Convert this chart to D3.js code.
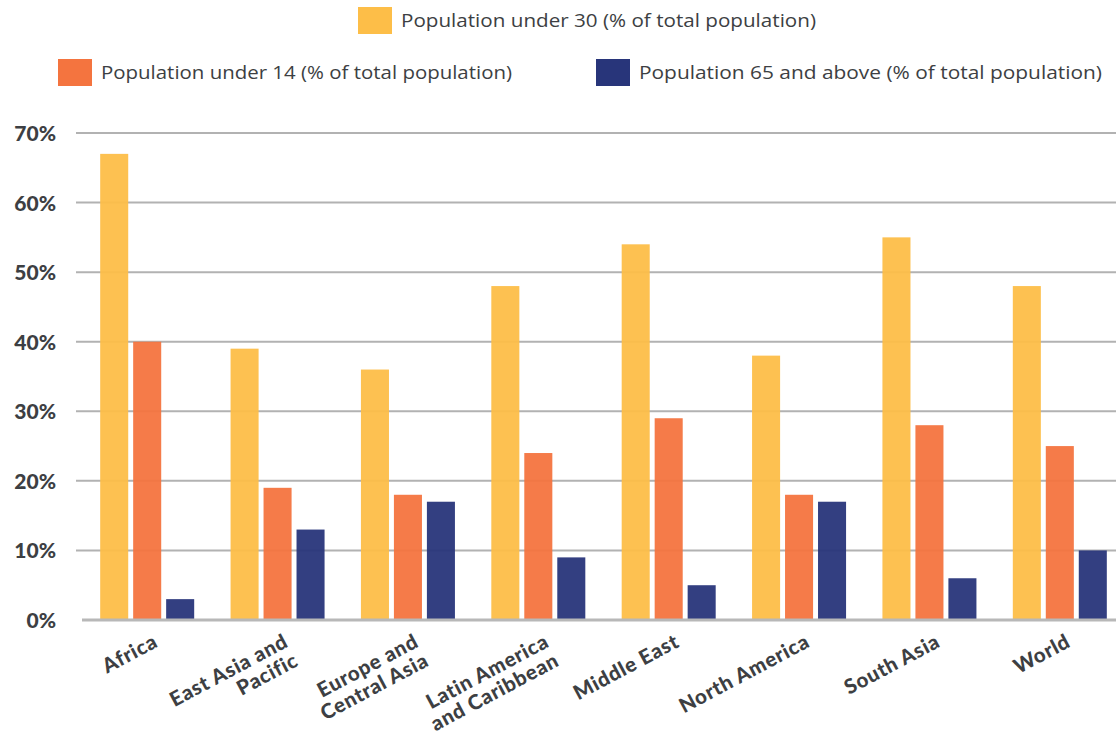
<!DOCTYPE html>
<html>
<head>
<meta charset="utf-8">
<script src="https://cdn.jsdelivr.net/npm/d3@7"></script>
<style>
  html, body { margin: 0; padding: 0; background: #ffffff; }
  svg { display: block; font-family: "Open Sans", Lato, sans-serif; }
</style>
</head>
<body>
<svg id="chart" width="1116" height="734"></svg>
<script>
// Regions shown along the x axis (each entry is the lines of its label)
const categories = [
  "Africa",
  "East Asia and Pacific",
  "Europe and Central Asia",
  "Latin America and Caribbean",
  "Middle East",
  "North America",
  "South Asia",
  "World"
];
const categoryLines = [
  ["Africa"],
  ["East Asia and", "Pacific"],
  ["Europe and", "Central Asia"],
  ["Latin America", "and Caribbean"],
  ["Middle East"],
  ["North America"],
  ["South Asia"],
  ["World"]
];

// Series values, % of total population
const seriesNames = [
  "Population under 30 (% of total population)",
  "Population under 14 (% of total population)",
  "Population 65 and above (% of total population)"
];
const under30 = [67, 39, 36, 48, 54, 38, 55, 48];
const under14 = [40, 19, 18, 24, 29, 18, 28, 25];
const over65  = [3, 13, 17, 9, 5, 17, 6, 10];
const seriesColors = ["#FDBE48", "#F4743F", "#28357A"];

// Y axis ticks
const yTicks = [0, 10, 20, 30, 40, 50, 60, 70];

const series = [under30, under14, over65];
const svg = d3.select("#chart");
const textColor = "#3d3f43";

const y = d3.scaleLinear().domain([0, 70]).range([620, 133]);

const x = d3.scaleBand()
  .domain(categories)
  .range([82, 1125])
  .paddingInner(0.279)
  .paddingOuter(0.1395);

const xInner = d3.scaleBand()
  .domain(d3.range(series.length))
  .range([0, x.bandwidth()])
  .paddingInner(0.15)
  .paddingOuter(0);

// Gridlines
svg.append("g")
  .selectAll("line")
  .data(yTicks.filter(t => t > 0))
  .join("line")
  .attr("x1", 76)
  .attr("x2", 1116)
  .attr("y1", d => y(d))
  .attr("y2", d => y(d))
  .attr("stroke", "#b2b2b2")
  .attr("stroke-width", 2);

// Y axis labels
const yAxis = svg.append("g")
  .attr("transform", "translate(56,0)")
  .call(d3.axisLeft(y).tickValues(yTicks).tickFormat(d => d + "%").tickSize(0).tickPadding(0));
yAxis.select(".domain").remove();
yAxis.selectAll("text")
  .attr("fill", textColor)
  .attr("font-size", 21)
  .attr("font-weight", 900)
  .attr("font-family", "Lato, sans-serif")
  .attr("dy", "0.36em");

// Bars
const groups = svg.append("g")
  .selectAll("g")
  .data(categories)
  .join("g")
  .attr("transform", d => `translate(${x(d)},0)`);

groups.selectAll("rect")
  .data((d, i) => series.map((s, k) => ({ k, v: s[i] })))
  .join("rect")
  .attr("x", d => xInner(d.k))
  .attr("width", xInner.bandwidth())
  .attr("y", d => y(d.v))
  .attr("height", d => y(0) - y(d.v))
  .attr("fill", d => seriesColors[d.k])
  .attr("fill-opacity", 0.95);

// Baseline
svg.append("line")
  .attr("x1", 82)
  .attr("x2", 1116)
  .attr("y1", y(0))
  .attr("y2", y(0))
  .attr("stroke", "#b8b8b8")
  .attr("stroke-width", 3);

// X axis labels, rotated
const xLabels = svg.append("g")
  .selectAll("text")
  .data(categories)
  .join("text")
  .attr("transform", d => `translate(${x(d) + x.bandwidth() / 2 + 12},646) rotate(-28)`)
  .attr("text-anchor", "end")
  .attr("fill", textColor)
  .attr("font-family", "Lato, sans-serif")
  .attr("font-size", 20.5)
  .attr("font-weight", 900)
  .attr("letter-spacing", 0.7);

xLabels.each(function (d, i) {
  d3.select(this).selectAll("tspan")
    .data(categoryLines[i])
    .join("tspan")
    .attr("x", 0)
    .attr("dy", (l, j) => j === 0 ? 0 : "1.05em")
    .text(l => l);
});

// Legend
const legendItems = [
  { k: 0, x: 358, y: 7, w: 415 },
  { k: 1, x: 58, y: 59, w: 411 },
  { k: 2, x: 596, y: 59, w: 463 }
];
const legend = svg.append("g")
  .selectAll("g")
  .data(legendItems)
  .join("g")
  .attr("transform", d => `translate(${d.x},${d.y})`);
legend.append("rect")
  .attr("width", 34)
  .attr("height", 27)
  .attr("fill", d => seriesColors[d.k]);
legend.append("text")
  .attr("x", 43)
  .attr("y", 14)
  .attr("dy", "0.35em")
  .attr("fill", textColor)
  .attr("font-size", 18)
  .attr("textLength", d => d.w)
  .attr("lengthAdjust", "spacingAndGlyphs")
  .text(d => seriesNames[d.k]);
</script>
</body>
</html>
